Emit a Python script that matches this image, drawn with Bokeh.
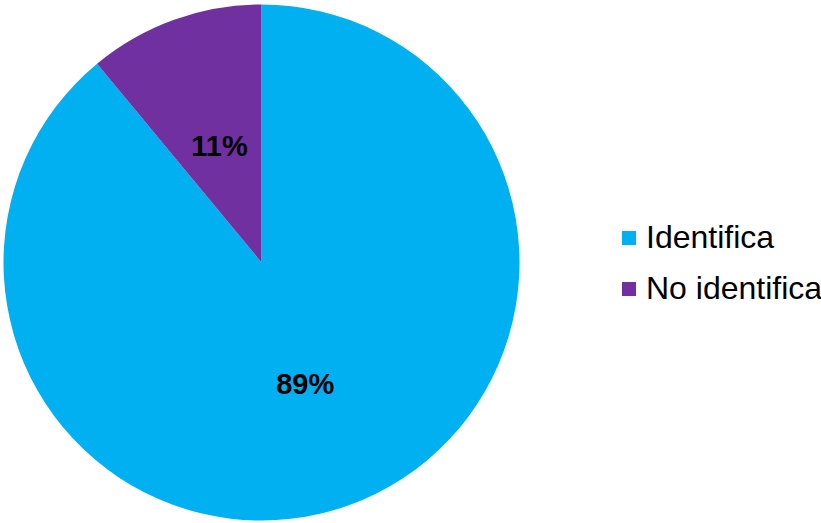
import math
from bokeh.plotting import figure
from bokeh.models import ColumnDataSource, Range1d, Legend, LegendItem
from bokeh.core.properties import value
from bokeh.embed import file_html
from bokeh.resources import INLINE

categories = ["Identifica", "No identifica"]
percents = [89, 11]
colors = ["#00B0F0", "#7030A0"]
labels = ["89%", "11%"]

W, H = 821, 523
cx, cy, r = 261, 261, 258

# angles: start at 12 o'clock, going clockwise
total = sum(percents)
starts, ends, mids = [], [], []
acc = 0.0
for v in percents:
    a0 = math.pi / 2 - 2 * math.pi * acc / total
    a1 = math.pi / 2 - 2 * math.pi * (acc + v) / total
    starts.append(a1)
    ends.append(a0)
    mids.append((a0 + a1) / 2)
    acc += v

lab_r = [0.50 * r, 0.48 * r]
src = ColumnDataSource(dict(
    cat=categories, start=starts, end=ends, color=colors,
    lx=[cx + rr * math.cos(m) for rr, m in zip(lab_r, mids)],
    ly=[cy + rr * math.sin(m) for rr, m in zip(lab_r, mids)],
    lab=labels,
))

p = figure(width=W, height=H, x_range=Range1d(0, W), y_range=Range1d(0, H),
           output_backend="svg", toolbar_location=None, min_border=0)
p.axis.visible = False
p.grid.visible = False
p.outline_line_color = None
p.background_fill_color = "white"

p.wedge(x=cx, y=cy, radius=r, start_angle="start", end_angle="end",
        fill_color="color", line_color=None, source=src)

p.text(x="lx", y="ly", text="lab", source=src, text_align="center",
       text_baseline="middle", text_font=value("Liberation Sans"),
       text_font_size="29px", text_font_style="bold", text_color="black")

items = []
for c, col in zip(categories, colors):
    rr = p.scatter(x=[-1000], y=[-1000], marker="square", size=14,
                   fill_color=col, line_color=None)
    items.append(LegendItem(label=c, renderers=[rr]))

legend = Legend(items=items, location=(611, 216), padding=0, margin=0,
                glyph_width=35, glyph_height=35, label_height=35,
                label_standoff=-2, spacing=14,
                label_text_font="Liberation Sans", label_text_font_size="32px",
                label_text_color="black", border_line_color=None,
                background_fill_alpha=0)
p.add_layout(legend, "center")

open("out.html", "w").write(file_html(p, INLINE))
